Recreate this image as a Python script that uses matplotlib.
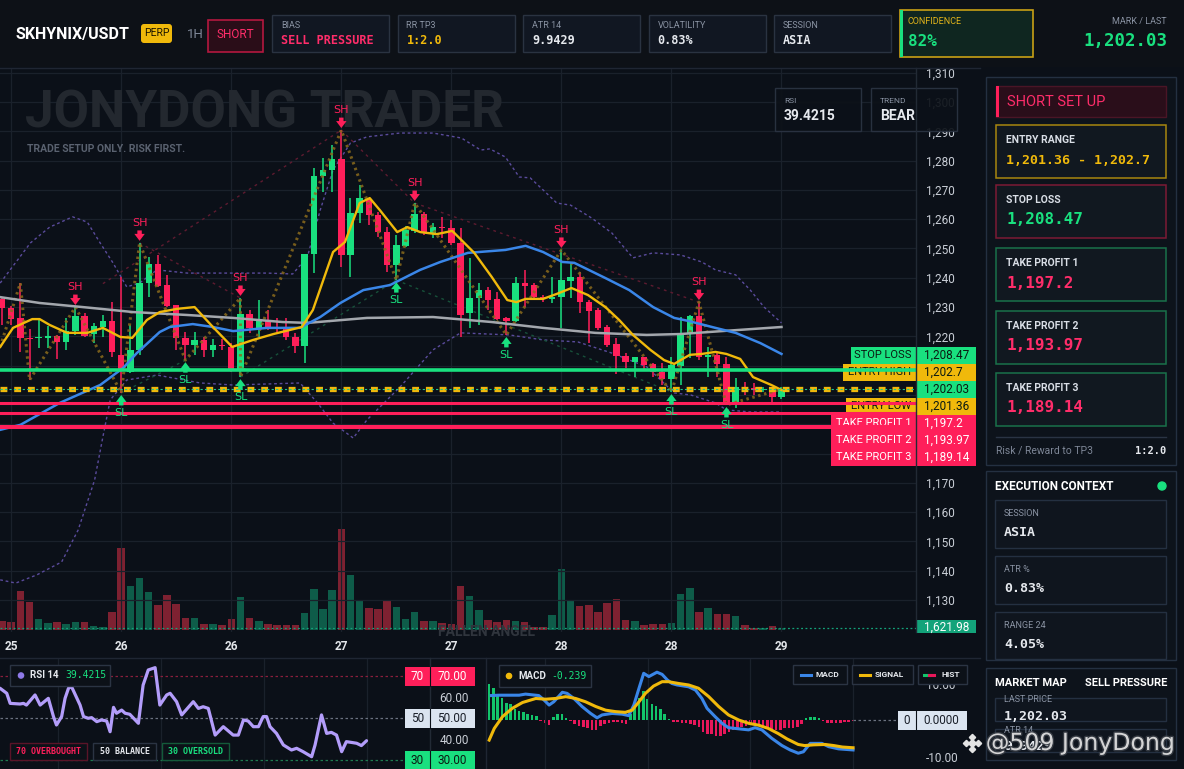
import matplotlib
matplotlib.use("Agg")
import matplotlib.pyplot as plt
import matplotlib.patheffects as pe
from matplotlib.patches import Rectangle, FancyBboxPatch, Circle
from matplotlib.ticker import FuncFormatter
import numpy as np

plt.rcParams['font.family'] = ['Roboto', 'DejaVu Sans']
MONO = 'DejaVu Sans Mono'

W, H = 1184, 769

# ---------------- data ----------------
opens = [1232.8, 1229.7, 1226.3, 1219.5, 1219.3, 1219.5, 1220.1, 1218.1, 1221.8, 1227.0,
         1220.8, 1223.2, 1225.3, 1213.7, 1207.8, 1215.4, 1238.2, 1244.7, 1237.5, 1230.7,
         1219.5, 1217.1, 1218.8, 1215.4, 1217.1, 1216.4, 1208.5, 1227.6, 1222.9, 1225.6,
         1222.9, 1222.9, 1219.8, 1216.7, 1248.1, 1274.7, 1276.8, 1280.5, 1247.8, 1262.1,
         1266.9, 1261.4, 1255.6, 1244.4, 1250.9, 1256.0, 1261.8, 1255.3, 1257.3, 1257.0,
         1251.9, 1228.0, 1233.1, 1235.8, 1232.8, 1226.3, 1225.3, 1238.2, 1237.5, 1233.4,
         1232.8, 1233.4, 1238.9, 1240.3, 1231.7, 1229.0, 1223.2, 1217.4, 1213.3, 1211.3,
         1213.0, 1210.6, 1207.8, 1205.5, 1209.9, 1220.8, 1227.0, 1213.0, 1213.7, 1210.6,
         1197.3, 1202.4, 1202.4, 1201.7, 1201.7, 1199.3]
highs = [1233.4, 1230.4, 1238.2, 1222.5, 1226.3, 1223.5, 1220.5, 1226.3, 1230.0, 1228.0,
         1224.6, 1227.3, 1231.7, 1240.3, 1223.9, 1251.9, 1247.1, 1247.8, 1241.0, 1230.7,
         1221.5, 1221.5, 1219.8, 1219.1, 1219.1, 1217.7, 1233.1, 1229.0, 1232.4, 1229.0,
         1226.3, 1226.3, 1221.2, 1248.1, 1277.5, 1280.9, 1285.3, 1290.4, 1267.2, 1271.7,
         1267.2, 1262.5, 1257.3, 1254.6, 1257.7, 1265.5, 1262.5, 1258.7, 1260.8, 1259.7,
         1257.0, 1246.8, 1238.2, 1236.9, 1235.2, 1226.6, 1240.3, 1242.7, 1238.2, 1234.1,
         1240.3, 1249.5, 1245.1, 1242.0, 1232.4, 1229.7, 1223.9, 1219.5, 1214.3, 1213.0,
         1213.0, 1210.9, 1210.9, 1213.0, 1226.6, 1227.3, 1231.7, 1216.4, 1214.3, 1213.0,
         1205.8, 1204.4, 1204.1, 1202.7, 1202.4, 1202.7]
lows = [1223.9, 1223.9, 1214.7, 1205.1, 1216.0, 1216.0, 1212.3, 1215.4, 1220.5, 1219.8,
        1217.7, 1219.8, 1213.0, 1200.7, 1207.5, 1213.7, 1233.4, 1236.9, 1230.0, 1215.4,
        1211.9, 1213.7, 1213.0, 1213.0, 1215.4, 1207.8, 1206.1, 1221.2, 1219.8, 1222.2,
        1221.5, 1218.8, 1214.3, 1210.9, 1241.6, 1269.3, 1269.3, 1243.7, 1240.3, 1258.7,
        1258.0, 1253.9, 1242.0, 1239.2, 1250.5, 1255.3, 1254.6, 1253.6, 1253.6, 1251.2,
        1219.8, 1222.9, 1223.9, 1229.0, 1225.6, 1220.5, 1224.9, 1230.0, 1233.1, 1231.7,
        1231.4, 1222.9, 1233.1, 1228.0, 1217.7, 1222.2, 1216.4, 1207.2, 1209.2, 1206.1,
        1208.5, 1206.1, 1203.4, 1201.0, 1203.4, 1212.6, 1211.9, 1206.1, 1206.1, 1196.6,
        1195.6, 1200.0, 1200.0, 1201.0, 1197.6, 1198.6]
closes = [1229.7, 1225.9, 1219.5, 1219.1, 1219.8, 1220.1, 1218.1, 1221.8, 1227.0, 1220.1,
          1223.5, 1225.3, 1214.7, 1208.5, 1215.4, 1238.2, 1244.7, 1237.2, 1230.4, 1219.5,
          1217.1, 1218.8, 1215.4, 1217.1, 1216.7, 1208.5, 1227.6, 1222.9, 1225.6, 1222.9,
          1222.5, 1219.8, 1216.7, 1248.1, 1274.7, 1276.8, 1280.5, 1247.8, 1262.1, 1267.2,
          1261.4, 1255.6, 1244.4, 1251.2, 1256.3, 1261.8, 1255.6, 1257.3, 1257.0, 1251.9,
          1227.3, 1233.1, 1235.8, 1232.4, 1225.9, 1225.3, 1238.2, 1237.2, 1233.4, 1232.8,
          1233.4, 1239.2, 1240.3, 1231.7, 1228.7, 1222.9, 1217.1, 1213.3, 1211.3, 1213.0,
          1210.2, 1207.8, 1205.5, 1210.2, 1220.8, 1227.0, 1213.0, 1213.7, 1210.6, 1197.3,
          1202.7, 1201.7, 1201.7, 1202.0, 1199.3, 1202.03]
volume = [7290, 6480, 31590, 22680, 8910, 5670, 6480, 4860, 6480, 6480,
          3240, 2430, 14580, 66420, 35640, 42120, 30780, 20250, 28350, 21060,
          9720, 9720, 4860, 4860, 4050, 8910, 26730, 9720, 7290, 4860,
          4050, 4050, 4050, 13770, 33210, 17010, 32400, 81810, 44550, 24300,
          17820, 17010, 24300, 18630, 8910, 14580, 7290, 7290, 5670, 4860,
          35640, 27540, 16200, 8100, 6480, 8100, 7290, 6480, 2430, 2430,
          12150, 49410, 24300, 19440, 20250, 14580, 21870, 25110, 8100, 7290,
          4050, 4860, 4860, 5670, 29160, 34020, 14580, 17820, 12960, 12960,
          11340, 4050, 1620, 1620, 3240, 1621.98]

label_idx = [1, 13, 25, 37, 49, 61, 73, 85]
day_labels = ['25', '26', '26', '27', '27', '28', '28', '29']
sub_grid_idx = [13, 37, 61, 85]

ema_fast_t = [-0.2, 1.2, 3.3, 4.1, 5.2, 7.1, 9.3, 11.0, 12.9, 14.2, 15.8, 17.2, 19.1, 21.0, 23.0,
              25.1, 27.4, 29.6, 31.4, 32.7, 33.9, 36.1, 37.4, 39.0, 40.1, 41.2, 43.1, 44.2, 45.6,
              47.4, 49.1, 51.5, 53.4, 55.1, 56.1, 57.1, 59.0, 60.5, 62.1, 63.9, 65.8, 67.3, 68.8,
              70.7, 72.2, 73.3, 74.0, 75.0, 76.3, 77.8, 79.0, 80.5, 81.9, 83.9, 85.0]
ema_fast_v = [1216.4, 1222.9, 1225.9, 1225.9, 1223.9, 1221.2, 1221.2, 1222.9, 1219.8, 1219.5,
              1225.6, 1228.3, 1229.4, 1230.0, 1223.2, 1216.4, 1218.8, 1220.8, 1222.2, 1223.2,
              1229.0, 1248.8, 1252.2, 1265.5, 1267.2, 1263.1, 1255.6, 1257.3, 1255.6, 1254.9,
              1256.0, 1248.5, 1240.3, 1232.4, 1231.7, 1232.8, 1232.8, 1234.5, 1236.5, 1234.1,
              1230.0, 1225.6, 1220.5, 1215.4, 1211.9, 1210.6, 1211.9, 1213.7, 1214.0, 1214.7,
              1214.0, 1212.3, 1206.1, 1203.4, 1201.7]
ema_slow_t = [-0.2, 2.0, 6.3, 10.7, 13.2, 14.7, 17.2, 18.3, 20.8, 23.0, 25.2, 28.9, 32.5, 34.7,
              36.9, 39.4, 42.3, 45.6, 47.8, 50.8, 54.9, 57.1, 59.0, 61.1, 62.4, 65.8, 68.4, 71.0,
              73.3, 74.8, 77.8, 80.0, 82.7, 85.0]
ema_slow_v = [1188.1, 1189.8, 1197.3, 1203.4, 1209.2, 1214.3, 1221.5, 1223.2, 1224.2, 1223.2,
              1221.8, 1222.9, 1222.9, 1226.6, 1231.4, 1235.8, 1237.5, 1242.7, 1245.4, 1248.5,
              1249.5, 1250.9, 1248.8, 1245.4, 1245.1, 1239.9, 1235.8, 1230.0, 1226.3, 1225.3,
              1222.9, 1221.2, 1217.7, 1214.0]
sma_t = [-0.2, 4.1, 8.8, 14.3, 20.2, 25.2, 30.6, 33.3, 39.8, 47.0, 53.4, 59.0, 64.7, 70.3,
         74.0, 78.5, 85.0]
sma_v = [1233.4, 1231.4, 1230.0, 1228.3, 1227.3, 1226.3, 1224.9, 1224.6, 1226.3, 1226.6,
         1224.9, 1222.9, 1221.2, 1220.5, 1220.8, 1221.8, 1223.2]
bb_up_t = [-0.2, 3.1, 5.2, 7.7, 9.3, 10.7, 12.1, 13.6, 15.0, 16.9, 20.2, 28.9, 31.7, 33.3,
           34.7, 36.1, 38.0, 39.8, 43.4, 47.0, 50.1, 52.2, 53.2, 54.9, 56.4, 57.6, 59.0, 60.5,
           62.0, 64.3, 66.5, 68.8, 71.0, 74.0, 76.3, 77.8, 80.0, 81.6, 83.1, 85.0]
bb_up_v = [1238.2, 1251.9, 1257.3, 1260.8, 1259.0, 1251.9, 1245.1, 1236.9, 1238.2, 1242.7,
           1241.6, 1241.6, 1241.3, 1247.1, 1263.1, 1276.8, 1286.0, 1288.1, 1289.4, 1289.4,
           1287.7, 1283.6, 1284.0, 1281.2, 1274.4, 1274.1, 1270.0, 1265.5, 1264.8, 1260.4,
           1255.3, 1246.8, 1248.5, 1247.8, 1245.4, 1242.7, 1241.0, 1235.8, 1230.0, 1224.6]
bb_lo_t = [-0.2, 1.5, 3.8, 6.5, 8.3, 10.1, 11.0, 11.8, 13.6, 16.9, 21.6, 25.2, 32.5, 34.4,
           36.1, 38.3, 39.8, 43.4, 47.0, 50.0, 55.3, 59.0, 62.8, 66.5, 70.3, 73.3, 75.1, 77.8,
           79.0, 81.6, 85.0]
bb_lo_v = [1136.9, 1135.8, 1138.6, 1143.0, 1153.9, 1171.0, 1185.7, 1198.3, 1205.1, 1206.8,
           1204.1, 1203.4, 1204.1, 1197.3, 1190.4, 1185.3, 1191.5, 1202.7, 1215.4, 1221.2,
           1220.5, 1218.8, 1218.1, 1214.3, 1209.6, 1200.7, 1200.0, 1197.3, 1194.9, 1194.2,
           1194.2]

zigzag_t = [-0.2, 2, 3, 8, 13, 15, 20, 26, 26, 37, 43, 45, 55, 61, 73, 76, 79, 85]
zigzag_v = [1216.4, 1238.2, 1205.1, 1230.0, 1200.7, 1251.9, 1211.9, 1233.1, 1206.1, 1290.4,
            1239.2, 1265.5, 1220.5, 1249.5, 1201.0, 1231.7, 1196.6, 1202.0]
res_lines = [((11, 37), (1238.0, 1290.4)), ((15, 26), (1251.9, 1233.1)),
             ((37, 45), (1290.4, 1265.5)), ((45, 76), (1265.5, 1231.7))]
sup_lines = [((13, 20), (1200.7, 1211.9)), ((26, 43), (1206.1, 1239.2)),
             ((43, 73), (1239.2, 1201.0))]

swing_high_idx = [8, 15, 26, 37, 45, 61, 76]
swing_low_idx = [13, 20, 26, 43, 55, 73, 79]

stop_loss = 1208.47
entry_high = 1202.7
last_price = 1202.03
entry_low = 1201.36
tp1, tp2, tp3 = 1197.2, 1193.97, 1189.14

rsi_t = [-0.47, 1.1, 1.9, 4.2, 5.0, 5.7, 7.7, 8.9, 10.8, 12.0, 12.7, 13.9, 14.7, 15.5, 16.2,
         18.2, 19.0, 20.1, 20.9, 22.1, 23.2, 24.4, 25.2, 26.0, 26.7, 27.9, 28.7, 29.8, 31.8,
         32.9, 34.1, 35.7, 36.8, 38.4, 39.2, 40.7, 41.9, 44.6, 45.8, 46.9, 48.1, 49.7, 51.6,
         53.9, 55.1, 56.3, 57.4, 58.6, 59.8, 60.9, 61.7, 62.5, 64.0, 65.6, 67.5, 68.7, 70.2,
         72.2, 73.0, 74.5, 75.7, 76.8, 78.0, 79.2, 80.3, 81.5, 82.7, 83.8, 85.0]
rsi_v = [64.4, 62.0, 57.2, 56.9, 57.2, 56.4, 61.2, 56.4, 59.6, 50.9, 46.9, 50.9, 59.6, 64.4,
         65.2, 56.4, 50.9, 50.1, 50.4, 48.5, 49.3, 48.8, 43.7, 55.3, 52.5, 54.0, 52.5, 52.0,
         47.7, 65.9, 73.1, 74.2, 56.4, 61.2, 62.0, 58.0, 51.7, 58.0, 54.8, 55.6, 54.8, 42.1,
         46.1, 42.1, 42.1, 49.3, 48.8, 46.1, 46.1, 50.9, 50.9, 46.1, 42.9, 37.4, 35.0, 35.8,
         34.2, 31.8, 37.4, 51.7, 42.9, 43.4, 42.1, 34.2, 38.97, 38.6, 38.2, 37.1, 39.42]
rsi_last = 39.4215

macd_t = [0.5, 2.3, 7.0, 8.5, 11.6, 12.8, 14.0, 15.1, 17.1, 18.2, 19.8, 21.7, 23.7, 25.2,
          26.4, 28.7, 31.1, 32.6, 33.8, 35.0, 36.1, 37.3, 39.2, 40.4, 41.6, 42.7, 43.9, 46.6,
          48.2, 49.7, 50.9, 52.8, 54.4, 55.9, 59.0, 60.6, 62.1, 63.7, 66.0, 68.4, 70.3, 72.2,
          73.4, 75.0, 77.7, 79.3, 81.6, 85.0]
macd_v = [6.7, 6.8, 6.8, 7.1, 6.7, 5.5, 4.1, 5.0, 7.6, 7.3, 5.9, 3.7, 1.8, 0.6, 1.4, 1.8,
          1.6, 1.2, 4.1, 8.7, 12.8, 11.9, 13.1, 12.5, 11.0, 10.0, 9.6, 9.1, 8.2, 5.9, 3.2, 0.9,
          -0.9, -2.1, -2.5, -2.7, -2.1, -2.7, -5.0, -7.0, -8.2, -9.1, -8.7, -6.4, -6.4, -7.3,
          -7.9, -8.2]
signal_t = [0.0, 1.2, 3.1, 5.4, 7.8, 10.9, 13.2, 15.5, 17.9, 20.2, 22.5, 24.9, 27.2, 29.5,
            31.8, 33.4, 35.0, 36.5, 38.4, 40.4, 41.9, 44.3, 46.6, 48.9, 51.3, 53.6, 55.9, 58.3,
            60.6, 62.9, 65.2, 67.5, 69.6, 72.2, 73.7, 75.8, 78.5, 80.5, 82.5, 85.0]
signal_v = [-5.5, -2.3, 0.9, 3.2, 4.8, 5.9, 5.7, 5.9, 6.4, 5.9, 5.0, 3.7, 2.7, 2.3, 2.1, 2.7,
            5.0, 7.3, 9.3, 10.5, 10.5, 10.0, 9.6, 8.7, 6.4, 3.7, 1.4, 0.0, -0.9, -1.4, -2.3,
            -3.7, -5.2, -6.7, -7.0, -6.8, -6.7, -7.0, -7.4, -7.6]
hist = [9.8, 8.7, 7.2, 6.1, 4.7, 4.3, 2.9, 2.5, 2.3, 1.6, 1.3, 1.1, -0.3, -0.7, -1.4, 0.8,
        1.6, 1.6, 0.6, -0.3, -1.2, -1.6, -1.9, -2.3, -2.6, -2.8, -1.6, -1.2, -0.8, -0.5, -0.5,
        -0.7, -1.2, 1.6, 3.8, 6.1, 7.9, 5.7, 4.3, 3.8, 2.9, 1.7, 0.2, -0.5, -0.6, -0.7, -0.9,
        -1.2, -1.4, -1.9, -3.2, -3.9, -3.9, -4.4, -4.4, -3.9, -3.3, -2.6, -2.1, -1.9, -1.6,
        -1.2, -1.5, -1.6, -1.9, -2.3, -2.6, -2.6, -2.6, -2.3, -2.3, -2.1, -1.9, -1.0, 0.6, 0.8,
        0.8, 0.5, -0.3, -0.7, -0.7, -0.7, -0.7, -0.5, -0.5, -0.24]

# ---------------- colours ----------------
BG = '#0b1018'
GRID = '#1a212b'
GREEN = '#19e07f'
RED = '#ff1f5a'
GOLD = '#f0b90b'
BLUE = '#3a86e8'
GREY = '#a3a7ad'
PURPLE = '#5a4b9c'
TXT = '#e6e9ee'
MUTED = '#8a93a3'
BOX = '#111722'
EDGE = '#2a3341'
DARK = '#0b1a12'

fig = plt.figure(figsize=(W / 100, H / 100), dpi=100, facecolor=BG)


def axes_px(x0, y0, x1, y1, **kw):
    return fig.add_axes([x0 / W, 1 - y1 / H, (x1 - x0) / W, (y1 - y0) / H], **kw)


def clean(a):
    for s in a.spines.values():
        s.set_visible(False)


ov = axes_px(0, 0, W, H, zorder=10)
ov.set_xlim(0, W)
ov.set_ylim(H, 0)
ov.axis('off')
PX = ov.transData


def py(a, v):
    return H - a.transData.transform((0, v))[1]


def box(x0, y0, x1, y1, fc=BOX, ec=EDGE, lw=1, target=None, z=1, alpha=1):
    t = target if target is not None else ov
    t.add_patch(Rectangle((x0, y0), x1 - x0, y1 - y0, facecolor=fc, edgecolor=ec, lw=lw,
                          transform=PX, clip_on=False, zorder=z, alpha=alpha))


def price_fmt(v, p):
    # labels between 1,180 and 1,210 sit under the level tags
    if 1175 < v < 1215:
        return ''
    return f'{v:,.0f}'


# ---------------- main price chart ----------------
n = len(opens)
t = np.arange(n)
o, h, l, c = map(np.array, (opens, highs, lows, closes))
col = np.where(c >= o, GREEN, RED)
vcol = np.where(c >= o, '#0e5c49', '#7e2131')

vax = axes_px(0, 68, 916, 632)
vax.set_facecolor(BG)
clean(vax)
vax.set_xticks([])
vax.set_yticks([])
vax.set_xlim(-0.22, 99.67)
vax.set_ylim(-1620, 455220)
vax.bar(t, volume, width=0.82, color=vcol, zorder=2)
vax.axhline(volume[-1], color='#13a37a', lw=0.9, ls=(0, (1.5, 2)), zorder=3)

ax = axes_px(0, 68, 916, 632)
ax.patch.set_visible(False)
clean(ax)
ax.set_xlim(-0.22, 99.67)
ax.set_ylim(1119.1, 1311.6)
ax.set_yticks(np.arange(1130, 1311, 10))
ax.set_xticks(label_idx)
ax.set_xticklabels(day_labels)
ax.grid(True, color=GRID, lw=0.9)
ax.set_axisbelow(True)
ax.yaxis.tick_right()
ax.yaxis.set_major_formatter(FuncFormatter(price_fmt))
ax.tick_params(axis='y', length=0, pad=7, labelsize=8.5, labelcolor='#c9ced6')
ax.tick_params(axis='x', length=0, pad=6, labelsize=8.5, labelcolor='#e3e6ea')
for lb in ax.get_xticklabels():
    lb.set_fontweight('bold')

ax.text(25, 114, 'JONYDONG TRADER', transform=PX, fontsize=37, fontweight='bold',
        color='#23282f', va='center', zorder=1)
ax.text(27, 149, 'TRADE SETUP ONLY. RISK FIRST.', transform=PX, fontsize=7.5,
        fontweight='bold', color='#5a6270', va='center', zorder=1)
ax.text(487, 632, 'FALLEN ANGEL', transform=PX, fontsize=10, fontweight='bold',
        color='#30353d', ha='center', va='center', zorder=1, clip_on=False)

ax.plot(bb_up_t, bb_up_v, color=PURPLE, lw=1, ls=(0, (2, 2)), zorder=2)
ax.plot(bb_lo_t, bb_lo_v, color=PURPLE, lw=1, ls=(0, (2, 2)), zorder=2)
for (xs, ys) in res_lines:
    ax.plot(xs, ys, color='#5e1b30', lw=1, ls=(0, (2, 3)), zorder=2)
for (xs, ys) in sup_lines:
    ax.plot(xs, ys, color='#17513a', lw=1, ls=(0, (2, 3)), zorder=2)

ax.vlines(t, l, h, colors=col, lw=1.1, zorder=3)
ax.bar(t, np.maximum(np.abs(c - o), 0.35), bottom=np.minimum(o, c), width=0.7,
       color=col, zorder=3)

ax.plot(zigzag_t, zigzag_v, color='#8a6a1c', lw=2.2, ls=(0, (0.8, 1.2)), alpha=0.85, zorder=4)
ax.plot(sma_t, sma_v, color=GREY, lw=1.8, zorder=4)
ax.plot(ema_slow_t, ema_slow_v, color=BLUE, lw=1.8, zorder=4)
ax.plot(ema_fast_t, ema_fast_v, color=GOLD, lw=1.7, zorder=4)

# level lines (drawn over the axis tags)
ax.axhline(stop_loss, color=GREEN, lw=2.6, zorder=6)
ax.axhline(last_price, color=GOLD, lw=3.8, ls=(0, (1.3, 1.3)), zorder=6)
ax.axhline(last_price, color='#1fc98a', lw=0.8, ls=(0, (2, 2)), zorder=6.1)
ax.axhline(tp1, color=RED, lw=2.2, zorder=6)
ax.axhline(tp2, color=RED, lw=2.2, zorder=6)
ax.axhline(tp3, color=RED, lw=2.9, zorder=6)

# swing markers
arrow_style = 'simple,head_length=0.5,head_width=0.75,tail_width=0.32'
for i in swing_high_idx:
    ax.annotate('', xy=(i, highs[i]), xytext=(0, 9), textcoords='offset points',
                arrowprops=dict(arrowstyle=arrow_style, color=RED, shrinkA=0, shrinkB=1.5,
                                lw=0), zorder=7)
    ax.annotate('SH', xy=(i, highs[i]), xytext=(0, 14.5), textcoords='offset points',
                ha='center', va='center', color=RED, fontsize=8, family='DejaVu Sans', zorder=7)
for i in swing_low_idx:
    ax.annotate('', xy=(i, lows[i]), xytext=(0, -9), textcoords='offset points',
                arrowprops=dict(arrowstyle=arrow_style, color=GREEN, shrinkA=0, shrinkB=1.5,
                                lw=0), zorder=7)
    ax.annotate('SL', xy=(i, lows[i]), xytext=(0, -14.5), textcoords='offset points',
                ha='center', va='center', color=GREEN, fontsize=8, family='DejaVu Sans', zorder=7)

# price-axis tags, stacked around the last price
tags = [('STOP LOSS', stop_loss, GREEN, DARK, 851),
        ('ENTRY HIGH', entry_high, GOLD, DARK, 843),
        ('', last_price, GREEN, DARK, 916),
        ('ENTRY LOW', entry_low, GOLD, DARK, 846),
        ('TAKE PROFIT 1', tp1, RED, 'white', 831),
        ('TAKE PROFIT 2', tp2, RED, 'white', 831),
        ('TAKE PROFIT 3', tp3, RED, 'white', 831)]
anchor = py(ax, last_price)
for k, (name, val, fc, tc, x0) in enumerate(tags):
    yc = anchor + (k - 2) * 17
    box(x0, yc - 8.5, 976, yc + 8.5, fc=fc, ec='none', target=ax, z=5)
    if name:
        ax.text(911, yc, name, transform=PX, ha='right', va='center', fontsize=8,
                color=tc, zorder=5.5, clip_on=False)
    ax.text(924, yc, f'{val:,}', transform=PX, ha='left', va='center', fontsize=8.5,
            color=tc, zorder=5.5, clip_on=False)
yv = 627
box(916, yv - 7, 976, yv + 6, fc='#13a37a', ec='none', target=ax, z=5)
ax.text(924, yv, f'{volume[-1]:,}', transform=PX, ha='left', va='center', fontsize=8.5,
        color='white', zorder=5.5, clip_on=False)

# RSI / TREND boxes
for x0, lab, val in [(775, 'RSI', f'{rsi_last}'), (871, 'TREND', 'BEAR')]:
    box(x0, 88, x0 + 86, 131, fc='#0c1118', ec='#2b3443', target=ax, z=8, alpha=0.92)
    ax.text(x0 + 9, 101, lab, transform=PX, fontsize=6, color=MUTED, va='center',
            zorder=8.5, clip_on=False)
    ax.text(x0 + 9, 116, val, transform=PX, fontsize=10, fontweight='bold', color=TXT,
            va='center', zorder=8.5, clip_on=False)

ov.plot([916, 916], [68, 632], color='#222a35', lw=1)
ov.plot([0, 980], [67.5, 67.5], color='#1f2633', lw=1)
ov.plot([0, 980], [657.5, 657.5], color='#1f2633', lw=1)
ov.plot([486, 486], [658, 769], color='#1f2633', lw=1)

# ---------------- RSI panel ----------------
rax = axes_px(0, 658, 430, 769)
rax.set_facecolor(BG)
clean(rax)
rax.set_xlim(-0.47, 99.8)
rax.set_ylim(25.95, 78.8)
rax.set_xticks(sub_grid_idx)
rax.grid(True, axis='x', color=GRID, lw=0.9)
rax.tick_params(axis='x', length=0, labelbottom=False)
rax.yaxis.tick_right()
rax.set_yticks([40, 60])
rax.yaxis.set_major_formatter(FuncFormatter(lambda v, p: f'{v:.2f}'))
rax.tick_params(axis='y', length=0, pad=7, labelsize=8.5, labelcolor='#c9ced6')
rax.axhline(70, color='#8a1f3c', lw=0.9, ls=(0, (2, 2)))
rax.axhline(50, color='#6b7280', lw=0.9, ls=(0, (2, 2)))
rax.axhline(30, color='#1c7a4f', lw=0.9, ls=(0, (2, 2)))
rax.plot(rsi_t, rsi_v, color='#b39dfa', lw=2.3, solid_capstyle='round')
ov.plot([430, 430], [658, 769], color='#222a35', lw=1)

for lvl, fc, tc in [(70, RED, 'white'), (50, '#dbe4f0', '#1a1f29'), (30, GREEN, DARK)]:
    yc = py(rax, lvl)
    box(405, yc - 9.5, 475, yc + 9.5, fc=fc, ec='none', z=2)
    ov.plot([430, 430], [yc - 9.5, yc + 9.5], color='#0b1018', lw=0.8, zorder=3)
    ov.text(417.5, yc, f'{lvl}', ha='center', va='center', fontsize=8.5, color=tc, zorder=3)
    ov.text(452, yc, f'{lvl:.2f}', ha='center', va='center', fontsize=8.5, color=tc, zorder=3)

box(10, 665, 110, 686, fc='#0c1118', ec='#2b3443')
ov.add_patch(Circle((21, 675.5), 2.6, color='#8f7ae8', zorder=2))
ov.text(30, 675.5, 'RSI 14', fontsize=7, fontweight='bold', color=TXT, va='center', zorder=2)
ov.text(65, 675.5, f'{rsi_last}', fontsize=7, family=MONO, color=GREEN, va='center', zorder=2)
for x0, x1, ec, tc, lab in [(10, 87, '#5a1428', RED, '70 OVERBOUGHT'),
                            (93, 156, '#2b3443', TXT, '50 BALANCE'),
                            (162, 229, '#145a3a', GREEN, '30 OVERSOLD')]:
    box(x0, 743, x1, 760, fc='#0c1118', ec=ec)
    ov.text((x0 + x1) / 2, 751.5, lab, fontsize=6, family=MONO, fontweight='bold',
            color=tc, ha='center', va='center', zorder=2)

# ---------------- MACD panel ----------------
max_ = axes_px(487, 658, 916, 769)
max_.set_facecolor(BG)
clean(max_)
max_.set_xlim(-0.5, 99.7)
max_.set_ylim(-13.42, 16.99)
max_.set_xticks(sub_grid_idx)
max_.grid(True, axis='x', color=GRID, lw=0.9)
max_.tick_params(axis='x', length=0, labelbottom=False)
max_.yaxis.tick_right()
max_.set_yticks([-10, 10])
max_.yaxis.set_major_formatter(FuncFormatter(lambda v, p: f'{v:.2f}'))
max_.tick_params(axis='y', length=0, pad=7, labelsize=8.5, labelcolor='#c9ced6')
hv = np.array(hist)
max_.bar(np.arange(len(hv)), hv, width=0.6, color=np.where(hv >= 0, '#12c46a', '#e8175a'))
max_.plot([85, 99.7], [0, 0], color='#6b7280', lw=0.9, ls=(0, (2, 2)))
max_.plot(macd_t, macd_v, color=BLUE, lw=2.2)
max_.plot(signal_t, signal_v, color=GOLD, lw=2.2)

yc = py(max_, 0)
box(898, yc - 9.5, 967, yc + 9.5, fc='#dbe4f0', ec='none', z=2)
ov.plot([916, 916], [yc - 9.5, yc + 9.5], color='#0b1018', lw=0.8, zorder=3)
ov.text(907, yc, '0', ha='center', va='center', fontsize=8.5, color='#1a1f29', zorder=3)
ov.text(941, yc, '0.0000', ha='center', va='center', fontsize=8.5, color='#1a1f29', zorder=3)

box(499, 665, 591, 687, fc='#0c1118', ec='#2b3443')
ov.add_patch(Circle((509, 676), 2.6, color=GOLD, zorder=2))
ov.text(518, 676, 'MACD', fontsize=7, fontweight='bold', color=TXT, va='center', zorder=2)
ov.text(551, 676, '-0.239', fontsize=7, family=MONO, color=GREEN, va='center', zorder=2)
for x0, x1, lc, lab in [(793, 847, BLUE, 'MACD'), (852, 913, GOLD, 'SIGNAL'),
                        (918, 967, None, 'HIST')]:
    box(x0, 665, x1, 684, fc='#0c1118', ec='#2b3443', z=2)
    if lc:
        ov.plot([x0 + 8, x0 + 18], [674.5, 674.5], color=lc, lw=2.2, zorder=3)
    else:
        ov.plot([x0 + 6, x0 + 11], [674.5, 674.5], color='#12c46a', lw=2.2, zorder=3)
        ov.plot([x0 + 11, x0 + 16], [674.5, 674.5], color='#e8175a', lw=2.2, zorder=3)
    ov.text(x0 + 23, 674.5, lab, fontsize=6, fontweight='bold', color=TXT, va='center', zorder=3)

# ---------------- top bar ----------------
box(0, 0, W, 67, fc='#0d1117', ec='none', z=0)
ov.text(15, 34, 'SKHYNIX/USDT', fontsize=11.5, fontweight='bold', color='white', va='center')
ov.add_patch(FancyBboxPatch((141, 24), 31, 19, boxstyle='round,pad=0,rounding_size=3',
                            fc=GOLD, ec='none'))
ov.text(156.5, 33.5, 'PERP', fontsize=7.5, color='#1a1400', ha='center', va='center')
ov.text(187, 34, '1H', fontsize=9.5, color='#7d8696', va='center')
box(208, 20, 263, 52, fc='#2a0d18', ec='#b3183f', lw=1.2)
ov.text(235.5, 35, 'SHORT', fontsize=8.5, color='#ff2d6a', ha='center', va='center')
stats = [('BIAS', 'SELL PRESSURE', '#ff2d6a'), ('RR TP3', '1:2.0', GOLD),
         ('ATR 14', '9.9429', TXT), ('VOLATILITY', '0.83%', TXT), ('SESSION', 'ASIA', TXT)]
for k, (lab, val, vc) in enumerate(stats):
    x0 = 272 + k * 125.5
    box(x0, 15, x0 + 117, 52, fc=BOX, ec=EDGE)
    ov.text(x0 + 9, 26, lab, fontsize=6.5, color=MUTED, va='center')
    ov.text(x0 + 9, 40.5, val, fontsize=8.5, family=MONO, fontweight='bold', color=vc,
            va='center')
box(900, 10, 1033, 57, fc='#0f2620', ec='#c8a015', lw=1.2)
box(900, 10, 903, 57, fc=GREEN, ec='none')
ov.text(908, 22, 'CONFIDENCE', fontsize=6.5, color='#e0b31a', va='center')
ov.text(908, 41, '82%', fontsize=11.5, family=MONO, fontweight='bold', color=GREEN,
        va='center')
ov.text(1167, 22, 'MARK / LAST', fontsize=6.5, color=MUTED, ha='right', va='center')
ov.text(1167, 41, f'{last_price:,.2f}', fontsize=12.5, family=MONO, fontweight='bold',
        color=GREEN, ha='right', va='center')

# ---------------- right panel: setup ----------------
box(986, 77, 1176, 465, fc='#0d131b', ec='#243041')
box(996, 86, 1166, 117, fc='#2a0e1a', ec='#4a1526')
box(996, 86, 999, 117, fc=RED, ec='none')
ov.text(1007, 101.5, 'SHORT SET UP', fontsize=10.5, color='#ff2d6a', va='center')
cards = [(125, 'ENTRY RANGE', f'{entry_low:,} - {entry_high:,}', '#a8860f', GOLD, 9.5),
         (185, 'STOP LOSS', f'{stop_loss:,}', '#7c1a35', GREEN, 11.5),
         (248, 'TAKE PROFIT 1', f'{tp1:,}', '#19724a', '#ff2d6a', 11.5),
         (311, 'TAKE PROFIT 2', f'{tp2:,}', '#19724a', '#ff2d6a', 11.5),
         (373, 'TAKE PROFIT 3', f'{tp3:,}', '#19724a', '#ff2d6a', 11.5)]
for y0, lab, val, ec, vc, fs in cards:
    box(996, y0, 1166, y0 + 53, fc='#111820', ec=ec, lw=1.1)
    ov.text(1006, y0 + 15, lab, fontsize=7.5, fontweight='bold', color='#d9dee6', va='center')
    ov.text(1006, y0 + 35, val, fontsize=fs, family=MONO, fontweight='bold', color=vc,
            va='center')
ov.plot([996, 1166], [437, 437], color='#2a3444', lw=1)
ov.text(996, 451, 'Risk / Reward to TP3', fontsize=7.5, color='#7d8696', va='center')
ov.text(1166, 451, '1:2.0', fontsize=7.5, family=MONO, fontweight='bold', color=TXT,
        ha='right', va='center')

# ---------------- right panel: execution context ----------------
box(986, 471, 1176, 660, fc='#0d131b', ec='#243041')
ov.text(995, 486, 'EXECUTION CONTEXT', fontsize=8.5, fontweight='bold', color='white',
        va='center')
ov.add_patch(Circle((1162, 486), 4, color=GREEN))
for y0, lab, val in [(500, 'SESSION', 'ASIA'), (556, 'ATR %', '0.83%'),
                     (612, 'RANGE 24', '4.05%')]:
    box(995, y0, 1166, min(y0 + 48, 659), fc='#0f151e', ec='#243041')
    ov.text(1004, y0 + 13, lab, fontsize=6.5, color=MUTED, va='center')
    ov.text(1004, y0 + 32, val, fontsize=9.5, family=MONO, fontweight='bold', color=TXT,
            va='center')

box(986, 668, 1176, 760, fc='#0d131b', ec='#243041')
ov.text(995, 683, 'MARKET MAP', fontsize=8, fontweight='bold', color='white', va='center')
ov.text(1167, 683, 'SELL PRESSURE', fontsize=8, fontweight='bold', color='white',
        ha='right', va='center')
for y0, y1, lab, val in [(698, 721, 'LAST PRICE', f'{last_price:,.2f}'),
                         (729, 752, 'ATR 14', '9.9429')]:
    box(995, y0, 1166, y1, fc='#0f151e', ec='#243041')
    ov.text(1004, y0 + 1.5, lab, fontsize=6.5, color=MUTED, va='center')
    ov.text(1004, y0 + 18, val, fontsize=9.5, family=MONO, fontweight='bold', color=TXT,
            va='center')

# watermark
ov.text(1175, 743, '@509 JonyDong', fontsize=17, family='DejaVu Sans', color='#e4e4e4',
        ha='right', va='center', alpha=0.9, zorder=5,
        path_effects=[pe.withStroke(linewidth=2, foreground='#3a3f47')])
for dx, dy, s in [(0, 0, 4.5), (-6, 0, 3.2), (6, 0, 3.2), (0, -6, 3.2), (0, 6, 3.2)]:
    ov.plot(972 + dx, 743 + dy, marker='D', ms=s, color='#e4e4e4', zorder=5)

fig.savefig('out.png', dpi=100, facecolor=BG)
